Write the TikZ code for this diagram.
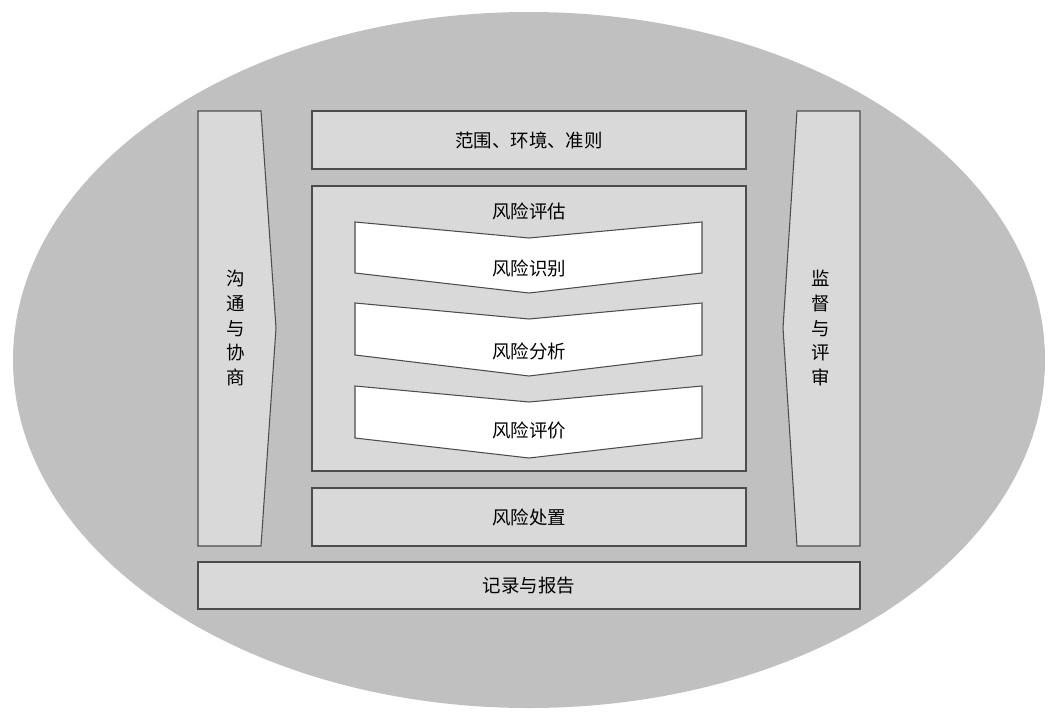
\documentclass[tikz,border=0pt]{standalone}
\usepackage{fontspec}
\setmainfont{Noto Sans CJK SC}
\begin{document}
\begin{tikzpicture}[x=0.02cm,y=-0.02cm,
  box/.style={fill=boxgray,draw=black!70,line width=0.6pt},
  chev/.style={fill=white,draw=black!70,line width=0.6pt},
  lbl/.style={font=\fontsize{10.5}{14}\selectfont,align=center,inner sep=0pt}]
\definecolor{bg}{HTML}{C0C0C0}
\definecolor{boxgray}{HTML}{D9D9D9}
\useasboundingbox (0,0) rectangle (1057,720);
\fill[bg] (529,360) ellipse [x radius=516, y radius=348];
\draw[box] (198,111) -- (261,111) -- (276,328) -- (261,546) -- (198,546) -- cycle;
\node[lbl] (comm) at (236,328) {沟\\通\\与\\协\\商};
\draw[box] (797,111) -- (860,111) -- (860,546) -- (797,546) -- (783,328) -- cycle;
\node[lbl] (mon) at (821,328) {监\\督\\与\\评\\审};
\draw[box] (312,111) rectangle (746,169);
\node[lbl] (scope) at (529,140) {范围、环境、准则};
\draw[box] (312,186) rectangle (746,471);
\node[lbl] (assess) at (529,211) {风险评估};
\draw[chev] (355,222) -- (529,238) -- (702,222) -- (702,273) -- (529,293) -- (355,273) -- cycle;
\node[lbl] (ident) at (529,268) {风险识别};
\draw[chev] (355,303) -- (529,319) -- (702,303) -- (702,355) -- (529,376) -- (355,355) -- cycle;
\node[lbl] (anal) at (529,351) {风险分析};
\draw[chev] (355,386) -- (529,402) -- (702,386) -- (702,438) -- (529,458) -- (355,438) -- cycle;
\node[lbl] (eval) at (529,430) {风险评价};
\draw[box] (312,488) rectangle (746,546);
\node[lbl] (treat) at (529,517) {风险处置};
\draw[box] (198,562) rectangle (860,609);
\node[lbl] (rec) at (529,586) {记录与报告};
\end{tikzpicture}
\end{document}
